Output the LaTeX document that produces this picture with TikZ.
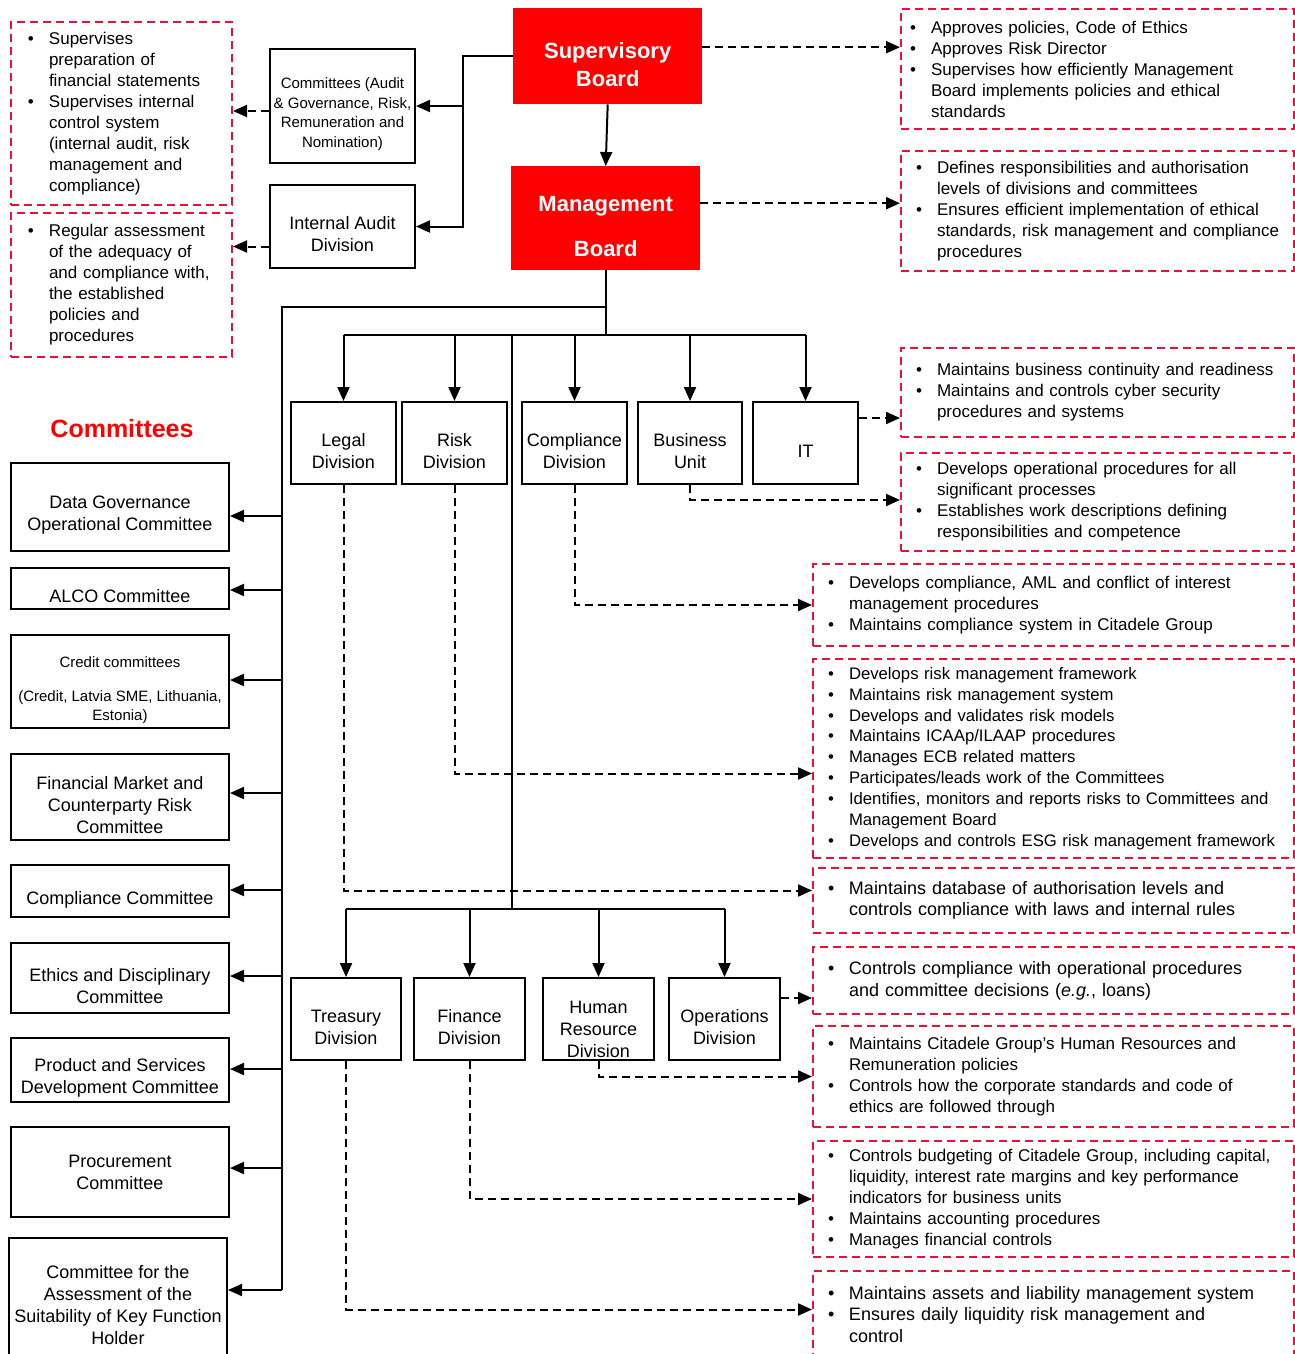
\documentclass[tikz,border=0pt]{standalone}
\usepackage{fontspec}
\setmainfont{Liberation Sans}
\usetikzlibrary{arrows.meta}
\definecolor{boardred}{RGB}{255,0,0}
\definecolor{notered}{RGB}{232,17,58}
\hyphenpenalty=10000
\exhyphenpenalty=10000
\newlength{\padL}
\setlength{\padL}{15pt}
\newcommand{\bul}{\hspace*{\padL}\makebox[21pt][l]{\textbullet}}
\newcommand{\cnt}{\hspace*{\padL}\hspace*{21pt}}
\tikzset{
	lift/.store in=\liftH, lift=0pt,
	board/.style={fill=boardred, text=white, font=\bfseries\fontsize{22}{28}\selectfont, align=center, inner sep=0pt, anchor=north west, execute at begin node={\rule{0pt}{\liftH}}},
	unit/.style={draw, line width=2pt, align=center, inner sep=0pt, anchor=north west, font=\fontsize{18}{22}\selectfont, execute at begin node={\rule{0pt}{\liftH}}, lift=51pt},
	note/.style={draw=notered, line width=2pt, dash pattern=on 8pt off 5pt, align=left, inner sep=0pt, anchor=north west, font=\fontsize{17}{21}\selectfont},
	plain/.style={line width=2pt},
	link/.style={line width=2pt, -{Triangle[length=14pt,width=12pt]}},
	duty/.style={line width=2pt, dash pattern=on 8pt off 5pt, -{Triangle[length=14pt,width=12pt]}},
}
\begin{document}
\begin{tikzpicture}[x=1pt,y=-1pt]
	\useasboundingbox (0,0) rectangle (1295,1354);
	\clip (0,0) rectangle (1295,1354);
	%boards
	\node[board, minimum width=189, minimum height=96, lift=60pt] (sb) at (513,8) {Supervisory\\Board};
	\node[board, minimum width=189, minimum height=104, lift=77pt] (mb) at (511,166) {Management\\[17pt]Board};
	\node[unit, minimum width=145, minimum height=114, font=\fontsize{15}{19.5}\selectfont, lift=86pt] (ca) at (269,48) {Committees (Audit\\\& Governance, Risk,\\Remuneration and\\Nomination)};
	\node[unit, minimum width=145, minimum height=83] (ia) at (269,184) {Internal Audit\\Division};
	%divisions
	\node[unit, minimum width=105, minimum height=82] (ld) at (290,401) {Legal\\Division};
	\node[unit, minimum width=105, minimum height=82] (rd) at (401,401) {Risk\\Division};
	\node[unit, minimum width=105, minimum height=82] (cd) at (521,401) {Compliance\\Division};
	\node[unit, minimum width=104, minimum height=82] (bu) at (637,401) {Business\\Unit};
	\node[unit, minimum width=105, minimum height=82, lift=29pt] (it) at (752,401) {IT};
	\node[unit, minimum width=110, minimum height=82] (td) at (290,977) {Treasury\\Division};
	\node[unit, minimum width=111, minimum height=82] (fd) at (413,977) {Finance\\Division};
	\node[unit, minimum width=111, minimum height=82, lift=77pt] (hr) at (542,977) {Human\\Resource\\Division};
	\node[unit, minimum width=111, minimum height=82] (od) at (668,977) {Operations\\Division};
	%committees
	\node[font=\bfseries\fontsize{25}{30}\selectfont, text=boardred] (ttl) at (122,429) {Committees};
	\node[unit, minimum width=218, minimum height=88] (cm1) at (10,462) {Data Governance\\Operational Committee};
	\node[unit, minimum width=218, minimum height=41, lift=29pt] (cm2) at (10,567) {ALCO Committee};
	\node[unit, minimum width=218, minimum height=93, font=\fontsize{15}{19}\selectfont, lift=81pt] (cm3) at (10,634) {Credit committees\\[15pt](Credit, Latvia SME, Lithuania,\\Estonia)};
	\node[unit, minimum width=218, minimum height=86, lift=73pt] (cm4) at (10,753) {Financial Market and\\Counterparty Risk\\Committee};
	\node[unit, minimum width=218, minimum height=52, lift=31pt] (cm5) at (10,864) {Compliance Committee};
	\node[unit, minimum width=218, minimum height=70] (cm6) at (10,942) {Ethics and Disciplinary\\Committee};
	\node[unit, minimum width=218, minimum height=64] (cm7) at (10,1037) {Product and Services\\Development Committee};
	\node[unit, minimum width=218, minimum height=90, lift=0pt] (cm8) at (10,1126) {Procurement\\Committee};
	\node[unit, minimum width=218, minimum height=135, lift=0pt] (cm9) at (8,1237) {Committee for the\\Assessment of the\\Suitability of Key Function\\Holder};
	%notes left
	\setlength{\padL}{17pt}
	\node[note, minimum width=221, minimum height=183, text width=221pt] (nAC) at (10,21) {\bul Supervises\\\cnt preparation of\\\cnt financial statements\\\bul Supervises internal\\\cnt control system\\\cnt (internal audit, risk\\\cnt management and\\\cnt compliance)};
	\node[note, minimum width=221, minimum height=144, text width=221pt] (nIA) at (10,212) {\bul Regular assessment\\\cnt of the adequacy of\\\cnt and compliance with,\\\cnt the established\\\cnt policies and\\\cnt procedures};
	%notes right
	\setlength{\padL}{9pt}
	\node[note, minimum width=393, minimum height=120, text width=393pt] (nSB) at (900,8) {\bul Approves policies, Code of Ethics\\\bul Approves Risk Director\\\bul Supervises how efficiently Management\\\cnt Board implements policies and ethical\\\cnt standards};
	\setlength{\padL}{15pt}
	\node[note, minimum width=393, minimum height=120, text width=393pt] (nMB) at (900,150) {\bul Defines responsibilities and authorisation\\\cnt levels of divisions and committees\\\bul Ensures efficient implementation of ethical\\\cnt standards, risk management and compliance\\\cnt procedures};
	\node[note, minimum width=393, minimum height=89, text width=393pt] (nIT) at (900,347) {\bul Maintains business continuity and readiness\\\bul Maintains and controls cyber security\\\cnt procedures and systems};
	\node[note, minimum width=393, minimum height=98, text width=393pt] (nBU) at (900,452) {\bul Develops operational procedures for all\\\cnt significant processes\\\bul Establishes work descriptions defining\\\cnt responsibilities and competence};
	\node[note, minimum width=481, minimum height=82, text width=481pt] (nCD) at (812,563) {\bul Develops compliance, AML and conflict of interest\\\cnt management procedures\\\bul Maintains compliance system in Citadele Group};
	\node[note, minimum width=481, minimum height=199, text width=481pt, font=\fontsize{16.7}{20.9}\selectfont] (nRD) at (812,658) {\bul Develops risk management framework\\\bul Maintains risk management system\\\bul Develops and validates risk models\\\bul Maintains ICAAp/ILAAP procedures\\\bul Manages ECB related matters\\\bul Participates/leads work of the Committees\\\bul Identifies, monitors and reports risks to Committees and\\\cnt Management Board\\\bul Develops and controls ESG risk management framework};
	\node[note, minimum width=481, minimum height=65, text width=481pt, font=\fontsize{18}{21.5}\selectfont] (nLD) at (812,867) {\bul Maintains database of authorisation levels and\\\cnt controls compliance with laws and internal rules};
	\node[note, minimum width=481, minimum height=67, text width=481pt, font=\fontsize{18}{22}\selectfont] (nOD) at (812,946) {\bul Controls compliance with operational procedures\\\cnt and committee decisions (\textit{e.g.}, loans)};
	\node[note, minimum width=481, minimum height=101, text width=481pt] (nHR) at (812,1025) {\bul Maintains Citadele Group’s Human Resources and\\\cnt Remuneration policies\\\bul Controls how the corporate standards and code of\\\cnt ethics are followed through};
	\node[note, minimum width=481, minimum height=116, text width=481pt] (nFD) at (812,1140) {\bul Controls budgeting of Citadele Group, including capital,\\\cnt liquidity, interest rate margins and key performance\\\cnt indicators for business units\\\bul Maintains accounting procedures\\\bul Manages financial controls};
	\node[note, minimum width=481, minimum height=87, text width=481pt, font=\fontsize{18}{21.5}\selectfont] (nTD) at (812,1270) {\bul Maintains assets and liability management system\\\bul Ensures daily liquidity risk management and\\\cnt control};
	%lines top
	\draw[link] (sb.south) -- (mb.north);
	\coordinate (bendA) at (463,0);
	\draw[link] (sb.west) -- (sb.west -| bendA) |- (ia.east);
	\draw[link] (bendA |- ca.east) -- (ca.east);
	\coordinate (s1) at ([yshift=9pt]sb.east);
	\coordinate (s2) at ([yshift=15pt]mb.east);
	\draw[duty] (s1) -- (s1 -| nSB.west);
	\draw[duty] (s2) -- (s2 -| nMB.west);
	\coordinate (s3) at ([yshift=-5pt]ca.west);
	\coordinate (s4) at ([yshift=-20pt]ia.west);
	\draw[duty] (s3) -- (s3 -| nAC.east);
	\draw[duty] (s4) -- (s4 -| nIA.east);
	%trunk and buses
	\coordinate (trk) at (282,307);
	\coordinate (trkEnd) at (282,1290);
	\coordinate (bus1) at (512,335);
	\coordinate (bus2) at (512,909);
	\draw[plain] (mb.south) -- (mb.south |- bus1);
	\draw[plain] (mb.south |- trk) -- (trk) -- (trkEnd);
	\draw[plain] (ld.north |- bus1) -- (it.north |- bus1);
	\draw[plain] (bus1) -- (bus2);
	\draw[plain] (td.north |- bus2) -- (od.north |- bus2);
	\foreach \u in {ld,rd,cd,bu,it}
		\draw[link] (\u.north |- bus1) -- (\u.north);
	\foreach \u in {td,fd,hr,od}
		\draw[link] (\u.north |- bus2) -- (\u.north);
	\foreach \c/\yy in {cm1/516,cm2/590,cm3/680,cm4/793,cm5/890,cm6/976,cm7/1069,cm8/1168,cm9/1290}{
		\coordinate (p) at (282,\yy);
		\draw[link] (p) -- (p -| \c.east);
	}
	%duties of divisions
	\coordinate (s5) at ([yshift=25pt]it.east);
	\draw[duty] (s5) -- (s5 -| nIT.west);
	\draw[duty] (bu.south) |- ([yshift=2pt]nBU.west);
	\draw[duty] (cd.south) |- (nCD.west);
	\draw[duty] (rd.south) |- ([yshift=-15pt]nRD.west);
	\draw[duty] (ld.south) |- ([yshift=10pt]nLD.west);
	\coordinate (s6) at ([yshift=21pt]od.east);
	\draw[duty] (s6) -- (s6 -| nOD.west);
	\draw[duty] (hr.south) |- (nHR.west);
	\draw[duty] (fd.south) |- (nFD.west);
	\draw[duty] (td.south) |- ([yshift=5pt]nTD.west);
\end{tikzpicture}
\end{document}
